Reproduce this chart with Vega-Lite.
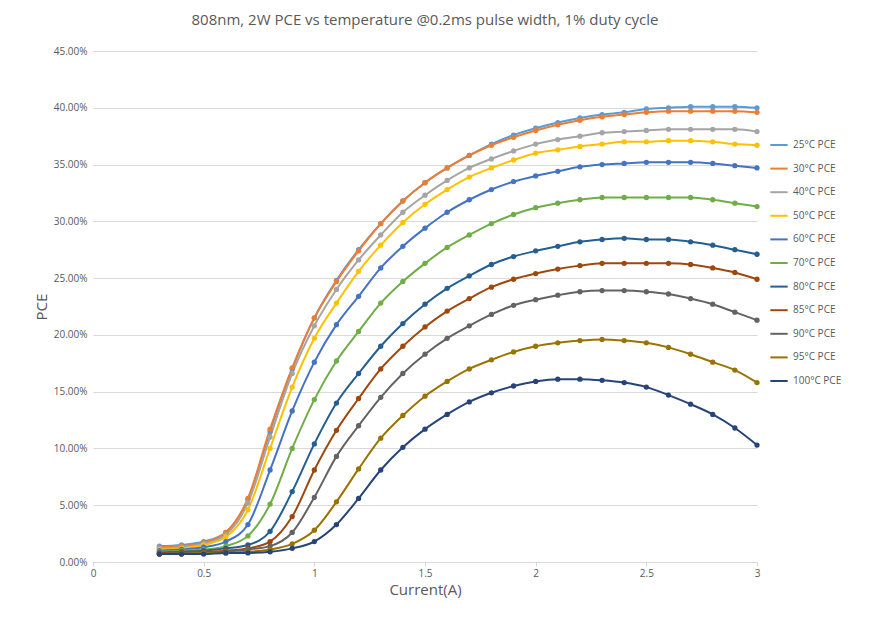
{
"$schema":"https://vega.github.io/schema/vega-lite/v6.json",
"width":664,"height":511,
"padding":{"left":34,"top":13,"right":10,"bottom":10},
"title":{"text":"808nm, 2W PCE vs temperature @0.2ms pulse width, 1% duty cycle","font":"Open Sans","fontSize":15,"fontWeight":"normal","color":"#595959","offset":18},
"config":{"view":{"stroke":null},"font":"Open Sans"},
"data":{"values":[
{"x":0.3,"a":1.4,"b":1.3,"c":1.2,"d":1.1,"e":1.0,"f":0.9,"g":0.8,"h":0.8,"i":0.7,"j":0.7,"k":0.7},
{"x":0.4,"a":1.5,"b":1.4,"c":1.3,"d":1.2,"e":1.1,"f":1.0,"g":0.9,"h":0.9,"i":0.8,"j":0.7,"k":0.7},
{"x":0.5,"a":1.8,"b":1.7,"c":1.6,"d":1.5,"e":1.3,"f":1.1,"g":1.0,"h":0.9,"i":0.8,"j":0.8,"k":0.7},
{"x":0.6,"a":2.6,"b":2.6,"c":2.4,"d":2.2,"e":1.8,"f":1.4,"g":1.2,"h":1.0,"i":0.9,"j":0.8,"k":0.8},
{"x":0.7,"a":5.5,"b":5.6,"c":5.2,"d":4.6,"e":3.3,"f":2.3,"g":1.5,"h":1.2,"i":1.1,"j":0.9,"k":0.8},
{"x":0.8,"a":11.5,"b":11.7,"c":11.0,"d":10.0,"e":8.1,"f":5.1,"g":2.7,"h":1.8,"i":1.4,"j":1.1,"k":0.9},
{"x":0.9,"a":17.0,"b":17.1,"c":16.6,"d":15.4,"e":13.3,"f":10.0,"g":6.2,"h":4.0,"i":2.6,"j":1.6,"k":1.2},
{"x":1.0,"a":21.5,"b":21.5,"c":20.8,"d":19.7,"e":17.6,"f":14.3,"g":10.4,"h":8.1,"i":5.7,"j":2.8,"k":1.8},
{"x":1.1,"a":24.8,"b":24.7,"c":24.0,"d":22.8,"e":20.9,"f":17.7,"g":14.0,"h":11.6,"i":9.3,"j":5.3,"k":3.3},
{"x":1.2,"a":27.5,"b":27.4,"c":26.6,"d":25.6,"e":23.4,"f":20.3,"g":16.6,"h":14.4,"i":12.0,"j":8.2,"k":5.6},
{"x":1.3,"a":29.8,"b":29.8,"c":28.8,"d":27.9,"e":25.9,"f":22.8,"g":19.0,"h":17.0,"i":14.5,"j":10.9,"k":8.1},
{"x":1.4,"a":31.8,"b":31.8,"c":30.8,"d":29.9,"e":27.8,"f":24.7,"g":21.0,"h":19.0,"i":16.6,"j":12.9,"k":10.1},
{"x":1.5,"a":33.4,"b":33.4,"c":32.3,"d":31.5,"e":29.4,"f":26.3,"g":22.7,"h":20.7,"i":18.3,"j":14.6,"k":11.7},
{"x":1.6,"a":34.7,"b":34.7,"c":33.6,"d":32.8,"e":30.8,"f":27.7,"g":24.1,"h":22.1,"i":19.7,"j":15.9,"k":13.0},
{"x":1.7,"a":35.8,"b":35.8,"c":34.7,"d":33.9,"e":31.9,"f":28.8,"g":25.2,"h":23.2,"i":20.8,"j":17.0,"k":14.1},
{"x":1.8,"a":36.8,"b":36.7,"c":35.5,"d":34.7,"e":32.8,"f":29.8,"g":26.2,"h":24.2,"i":21.8,"j":17.8,"k":14.9},
{"x":1.9,"a":37.6,"b":37.4,"c":36.2,"d":35.4,"e":33.5,"f":30.6,"g":26.9,"h":24.9,"i":22.6,"j":18.5,"k":15.5},
{"x":2.0,"a":38.2,"b":38.0,"c":36.8,"d":36.0,"e":34.0,"f":31.2,"g":27.4,"h":25.4,"i":23.1,"j":19.0,"k":15.9},
{"x":2.1,"a":38.7,"b":38.5,"c":37.2,"d":36.3,"e":34.4,"f":31.6,"g":27.8,"h":25.8,"i":23.5,"j":19.3,"k":16.1},
{"x":2.2,"a":39.1,"b":38.9,"c":37.5,"d":36.6,"e":34.8,"f":31.9,"g":28.2,"h":26.1,"i":23.8,"j":19.5,"k":16.1},
{"x":2.3,"a":39.4,"b":39.2,"c":37.8,"d":36.8,"e":35.0,"f":32.1,"g":28.4,"h":26.3,"i":23.9,"j":19.6,"k":16.0},
{"x":2.4,"a":39.6,"b":39.4,"c":37.9,"d":37.0,"e":35.1,"f":32.1,"g":28.5,"h":26.3,"i":23.9,"j":19.5,"k":15.8},
{"x":2.5,"a":39.9,"b":39.6,"c":38.0,"d":37.0,"e":35.2,"f":32.1,"g":28.4,"h":26.3,"i":23.8,"j":19.3,"k":15.4},
{"x":2.6,"a":40.0,"b":39.7,"c":38.1,"d":37.1,"e":35.2,"f":32.1,"g":28.4,"h":26.3,"i":23.6,"j":18.9,"k":14.7},
{"x":2.7,"a":40.1,"b":39.7,"c":38.1,"d":37.1,"e":35.2,"f":32.1,"g":28.2,"h":26.2,"i":23.2,"j":18.3,"k":13.9},
{"x":2.8,"a":40.1,"b":39.7,"c":38.1,"d":37.0,"e":35.1,"f":31.9,"g":27.9,"h":25.9,"i":22.7,"j":17.6,"k":13.0},
{"x":2.9,"a":40.1,"b":39.7,"c":38.1,"d":36.8,"e":34.9,"f":31.6,"g":27.5,"h":25.5,"i":22.0,"j":16.9,"k":11.8},
{"x":3.0,"a":40.0,"b":39.6,"c":37.9,"d":36.7,"e":34.7,"f":31.3,"g":27.1,"h":24.9,"i":21.3,"j":15.8,"k":10.3}
]},
"transform":[{"fold":["a","b","c","d","e","f","g","h","i","j","k"],"as":["key","pce"]},
{"lookup":"key","from":{"data":{"values":[
{"key":"a","series":"25°C PCE"},{"key":"b","series":"30°C PCE"},{"key":"c","series":"40°C PCE"},{"key":"d","series":"50°C PCE"},{"key":"e","series":"60°C PCE"},{"key":"f","series":"70°C PCE"},{"key":"g","series":"80°C PCE"},{"key":"h","series":"85°C PCE"},{"key":"i","series":"90°C PCE"},{"key":"j","series":"95°C PCE"},{"key":"k","series":"100°C PCE"}]},"key":"key","fields":["series"]}}],
"mark":{"type":"line","interpolate":"monotone","strokeWidth":2,"point":{"size":28,"filled":true,"opacity":1}},
"encoding":{
"x":{"field":"x","type":"quantitative","scale":{"domain":[0,3],"nice":false},
"axis":{"title":"Current(A)","values":[0,0.5,1,1.5,2,2.5,3],"format":"~g","grid":false,"domainColor":"#d9d9d9","tickColor":"#d9d9d9","tickSize":4,"labelColor":"#595959","labelFontSize":10,"titleFontSize":15,"titleFontWeight":"normal","titleColor":"#595959","labelFlush":false}},
"y":{"field":"pce","type":"quantitative","scale":{"domain":[0,45],"nice":false},
"axis":{"title":"PCE","values":[0,5,10,15,20,25,30,35,40,45],"labelExpr":"format(datum.value,'.2f')+'%'","gridColor":"#d9d9d9","domain":false,"ticks":false,"labelColor":"#595959","labelFontSize":10,"titleFontSize":15,"titleFontWeight":"normal","titleColor":"#595959","labelPadding":6}},
"color":{"field":"series","type":"nominal",
"scale":{"domain":["25°C PCE","30°C PCE","40°C PCE","50°C PCE","60°C PCE","70°C PCE","80°C PCE","85°C PCE","90°C PCE","95°C PCE","100°C PCE"],
"range":["#5B9BD5","#ED7D31","#A5A5A5","#FFC000","#4472C4","#70AD47","#255E91","#9E480E","#636363","#997300","#264478"]},
"legend":{"title":null,"orient":"none","legendX":676,"legendY":84,"labelFontSize":10,"labelColor":"#595959","symbolType":"stroke","symbolStrokeWidth":2,"symbolSize":300,"rowPadding":8.6,"padding":0}}
}
}
